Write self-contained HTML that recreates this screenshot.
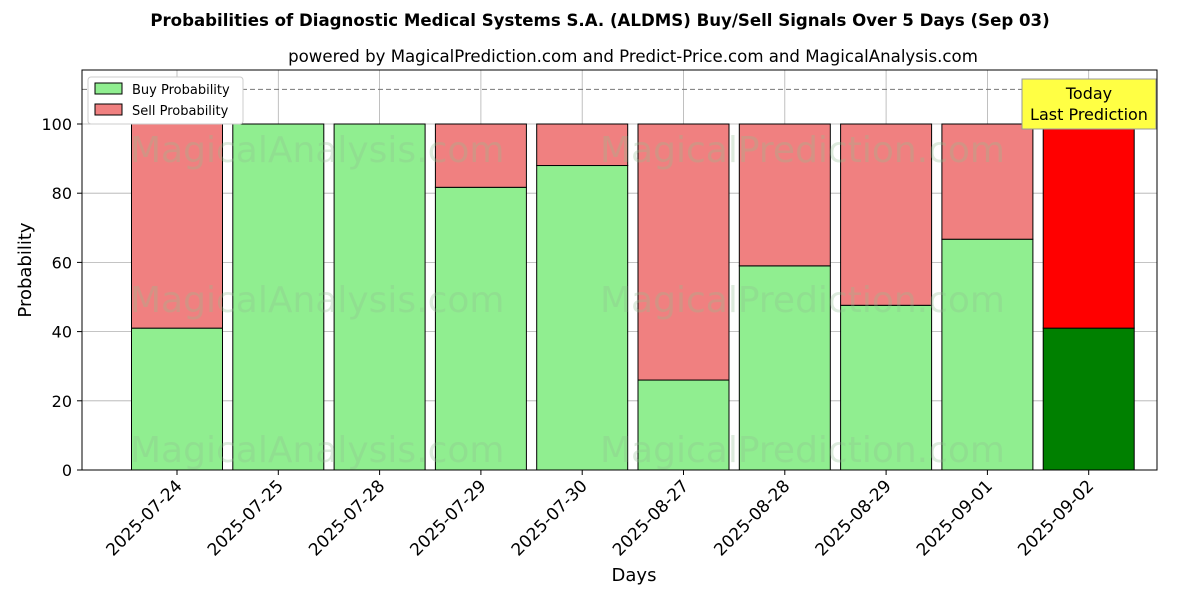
<!DOCTYPE html>
<html><head><meta charset="utf-8"><style>
body{margin:0;background:#fff;font-family:"Liberation Sans","DejaVu Sans",sans-serif}
</style></head><body>
<svg id="chart" width="1200" height="600" xmlns="http://www.w3.org/2000/svg" font-family="'DejaVu Sans','Liberation Sans',sans-serif">
<rect width="1200" height="600" fill="#fff"/>
<text x="600" y="26" text-anchor="middle" font-size="16.6" font-weight="bold">Probabilities of Diagnostic Medical Systems S.A. (ALDMS) Buy/Sell Signals Over 5 Days (Sep 03)</text>
<text x="633" y="62" text-anchor="middle" font-size="16.6">powered by MagicalPrediction.com and Predict-Price.com and MagicalAnalysis.com</text>
<g id="grid"></g>
<g id="bars"></g>
<g font-size="36" fill="#90c090" opacity="0.3">
<text x="130" y="162">MagicalAnalysis.com</text><text x="600" y="162">MagicalPrediction.com</text>
<text x="130" y="312">MagicalAnalysis.com</text><text x="600" y="312">MagicalPrediction.com</text>
<text x="130" y="462">MagicalAnalysis.com</text><text x="600" y="462">MagicalPrediction.com</text>
</g>
<line x1="82" x2="1157" y1="89.4" y2="89.4" stroke="#777" stroke-dasharray="5,3"/>
<rect x="82" y="70" width="1075" height="400" fill="none" stroke="#000"/>
<g id="axes"></g>
<text x="634" y="581" text-anchor="middle" font-size="18">Days</text>
<text transform="translate(31,270) rotate(-90)" text-anchor="middle" font-size="18">Probability</text>
<g>
<rect x="88" y="77" width="155" height="47" fill="#fff" stroke="#ccc" rx="3"/>
<rect x="95" y="83" width="27" height="11" fill="#90ee90" stroke="#000"/>
<text x="132" y="94" font-size="13">Buy Probability</text>
<rect x="95" y="104" width="27" height="11" fill="#f08080" stroke="#000"/>
<text x="132" y="115" font-size="13">Sell Probability</text>
</g>
<g>
<rect x="1022" y="79" width="134" height="50" fill="#ffff44" stroke="#999"/>
<text x="1089" y="99" text-anchor="middle" font-size="16">Today</text>
<text x="1089" y="120" text-anchor="middle" font-size="16">Last Prediction</text>
</g>
</svg>
<script>
const categories=["2025-07-24","2025-07-25","2025-07-28","2025-07-29","2025-07-30","2025-08-27","2025-08-28","2025-08-29","2025-09-01","2025-09-02"];
const buyValues=[41,100,100,81.7,88,26,59,47.6,66.7,41];
const sellValues=[59,0,0,18.3,12,74,41,52.4,33.3,59];
const yTicks=[0,20,40,60,80,100];
const NS="http://www.w3.org/2000/svg";
const y=v=>470-v*3.46;
const x=i=>177+i*101.3;
const bw=91;
function mk(t,a,p){const e=document.createElementNS(NS,t);for(const k in a)e.setAttribute(k,a[k]);p.appendChild(e);return e;}
const grid=document.getElementById('grid'),bars=document.getElementById('bars'),axes=document.getElementById('axes');
yTicks.forEach(t=>{
 const l=mk('line',{x1:82,x2:1157,y1:y(t),y2:y(t),stroke:'#b0b0b0','stroke-width':0.8},grid);
 
 
 mk('line',{x1:77,x2:82,y1:y(t),y2:y(t),stroke:'#000'},axes);
 const tx=mk('text',{x:72,y:y(t)+6,'text-anchor':'end','font-size':16},axes);tx.textContent=t;
 
 
});
categories.forEach((c,i)=>{
 const g=mk('line',{x1:x(i),x2:x(i),y1:70,y2:470,stroke:'#b0b0b0','stroke-width':0.8},grid);
 
 
 const last=i===categories.length-1;
 const b=mk('rect',{x:x(i)-bw/2,y:y(buyValues[i]),width:bw,height:buyValues[i]*3.46,fill:last?'#008000':'#90ee90',stroke:'#000','stroke-width':1},bars);
 
 
 const s=mk('rect',{x:x(i)-bw/2,y:y(buyValues[i]+sellValues[i]),width:bw,height:sellValues[i]*3.46,fill:last?'#ff0000':'#f08080',stroke:'#000','stroke-width':1},bars);
 
 
 mk('line',{x1:x(i),x2:x(i),y1:470,y2:475,stroke:'#000'},axes);
 const tx=mk('text',{x:0,y:0,'text-anchor':'end','font-size':17,transform:`translate(${x(i)+6},${487}) rotate(-45)`},axes);tx.textContent=c;
 
 
});
</script>
</body></html>
